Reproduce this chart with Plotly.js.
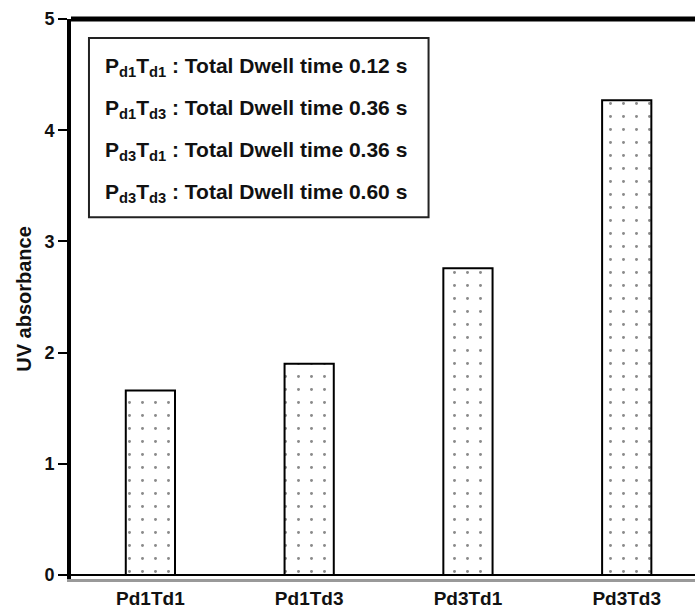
<!DOCTYPE html>
<html>
<head>
<meta charset="utf-8">
<script src="https://cdn.plot.ly/plotly-3.0.1.min.js"></script>
<style>html,body{margin:0;padding:0;background:#fff;}#chart{width:695px;height:611px;}</style>
</head>
<body>
<div id="chart"></div>
<script>
const categories = ["Pd1Td1", "Pd1Td3", "Pd3Td1", "Pd3Td3"];
const uvAbsorbance = [1.66, 1.90, 2.76, 4.27];
const yTickVals = [0, 1, 2, 3, 4, 5];
const legendLines = [
  "P<sub>d1</sub>T<sub>d1</sub> : Total Dwell time 0.12 s",
  "P<sub>d1</sub>T<sub>d3</sub> : Total Dwell time 0.36 s",
  "P<sub>d3</sub>T<sub>d1</sub> : Total Dwell time 0.36 s",
  "P<sub>d3</sub>T<sub>d3</sub> : Total Dwell time 0.60 s"
];

const FONT = "Liberation Sans, Arial, sans-serif";

const traces = [{
  type: "bar",
  x: categories,
  y: uvAbsorbance,
  width: 0.31,
  marker: {
    color: "#ffffff",
    line: {color: "#000000", width: 2},
    pattern: {shape: ".", size: 13, solidity: 0.04, fgcolor: "#8a8a8a", bgcolor: "#ffffff"}
  },
  hoverinfo: "none"
}];

const lineYs = [0.914, 0.840, 0.765, 0.689];
const annotations = legendLines.map((t, i) => ({
  xref: "paper", yref: "paper", x: 0.051, y: lineYs[i],
  xanchor: "left", yanchor: "middle", showarrow: false,
  text: "<b>" + t + "</b>",
  font: {family: FONT, size: 21, color: "#111"}
}));

const layout = {
  width: 695, height: 611,
  margin: {l: 71, r: 0, t: 19, b: 32},
  paper_bgcolor: "#fff", plot_bgcolor: "#fff",
  showlegend: false,
  xaxis: {
    type: "category",
    range: [-0.5, 3.43],
    showgrid: false, zeroline: false,
    showline: true, linecolor: "#999999", linewidth: 3,
    ticks: "", tickfont: {family: FONT, size: 19, color: "#111", weight: "bold"},
    ticklabelstandoff: 0
  },
  yaxis: {
    range: [-0.035, 5],
    tickvals: yTickVals,
    showgrid: false,
    zeroline: true, zerolinecolor: "#000", zerolinewidth: 2,
    showline: true, linecolor: "#000", linewidth: 4,
    ticks: "outside", ticklen: 9, tickwidth: 2, tickcolor: "#000",
    tickfont: {family: FONT, size: 18, color: "#111", weight: "bold"},
    title: {text: "<b>UV absorbance</b>", font: {family: FONT, size: 20, color: "#111"}, standoff: 8}
  },
  yaxis2: {
    overlaying: "y", side: "left",
    range: [-0.035, 5],
    tickvals: yTickVals.slice(1),
    showgrid: false, zeroline: false, showline: false,
    ticks: "inside", ticklen: 9, tickwidth: 2, tickcolor: "#000",
    showticklabels: false
  },
  shapes: [
    {type: "line", xref: "paper", yref: "paper", x0: 0, x1: 1, y0: 1, y1: 1,
     line: {color: "#000", width: 5}},
    {type: "rect", xref: "paper", yref: "paper", x0: 0.0288, x1: 0.573, y0: 0.646, y1: 0.966,
     line: {color: "#222", width: 2}, fillcolor: "rgba(0,0,0,0)"}
  ],
  annotations: annotations
};

Plotly.newPlot("chart", traces, layout, {displayModeBar: false, staticPlot: true});
</script>
</body>
</html>
